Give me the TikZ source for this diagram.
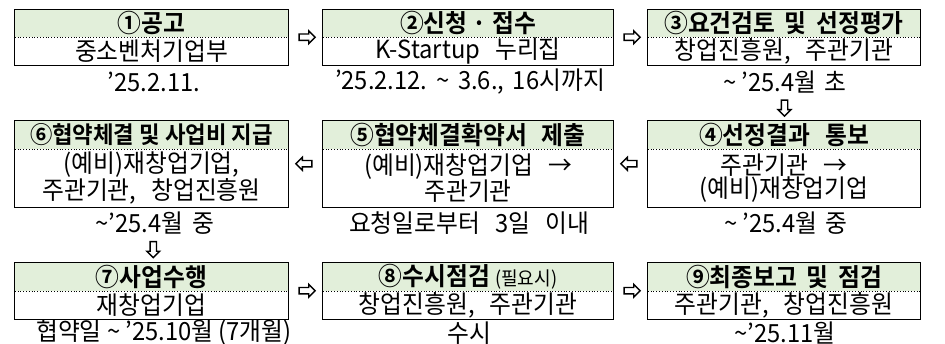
\documentclass[tikz,border=0pt]{standalone}
\usepackage{fontspec}
\setmainfont{Noto Sans CJK KR}[FakeStretch=0.95, BoldFont={Noto Sans CJK KR Bold}]
\usetikzlibrary{shapes.arrows,fit,calc}
\definecolor{hdrgreen}{HTML}{E2EFDA}
\newcommand{\wsp}{\hspace{0.6em}}
\newcommand{\hsp}{\hspace{0.6em}}
\newcommand{\nsp}{\hspace{0.38em}}
\newcommand{\msp}{\hspace{0.35em}}
\newcommand{\hdrfont}{\fontsize{25}{25}\selectfont\bfseries}
\newcommand{\bdyfont}{\fontsize{25}{23.5}\selectfont}
\tikzset{
  hdr/.style={fill=hdrgreen, anchor=north, inner sep=0pt, font=\hdrfont},
  bdy/.style={anchor=north, inner sep=0pt, align=center, font=\bdyfont},
  dt/.style={inner sep=0pt, font=\bdyfont},
  frame/.style={draw=black, line width=0.9pt, inner sep=0pt},
  divider/.style={black, line width=0.8pt, dotted},
  blockarrow/.style={single arrow, draw=black, fill=white, line width=1.4pt,
    minimum height=16pt, minimum width=12pt, inner sep=2.5pt,
    single arrow head extend=3.2pt},
  rarrow/.style={blockarrow},
  larrow/.style={blockarrow, shape border rotate=180},
  darrow/.style={blockarrow, shape border rotate=270},
  colA/.style={minimum width=273pt},
  colB/.style={minimum width=290pt},
  colC/.style={minimum width=272pt}
}
\begin{document}
\begin{tikzpicture}[x=1pt,y=-1pt]
\path[use as bounding box] (0,0) rectangle (945,344);

% ---------- Row 1 ----------
\node[hdr,colA,minimum height=28pt] (h1) at (151.5,9) {①공고};
\node[bdy,colA,minimum height=28pt] (b1) at (151.5,37) {중소벤처기업부};
\node[dt] (d1) at (154,82) {’25.2.11.};

\node[hdr,colB,minimum height=28pt] (h2) at (468,9) {②신청 · 접수};
\node[bdy,colB,minimum height=28pt] (b2) at (468,37) {K-Startup\wsp 누리집};
\node[dt] (d2) at (470,82) {’25.2.12.\msp\textasciitilde\msp 3.6.,\msp 16시까지};

\node[hdr,colC,minimum height=28pt] (h3) at (784,9) {③요건검토\nsp 및\nsp 선정평가};
\node[bdy,colC,minimum height=28pt] (b3) at (784,37) {창업진흥원,\wsp 주관기관};
\node[dt] (d3) at (785,82) {\textasciitilde\ ’25.4월\msp 초};

% ---------- Row 2 ----------
\node[hdr,colA,minimum height=29pt,font=\fontsize{23.5}{22}\selectfont\bfseries] (h6) at (151.5,120) {⑥협약체결 및 사업비 지급};
\node[bdy,colA,minimum height=58pt] (b6) at (151.5,149) {(예비)재창업기업,\\주관기관,\wsp 창업진흥원};
\node[dt] (d6) at (155,223) {\textasciitilde’25.4월\msp 중};

\node[hdr,colB,minimum height=29pt] (h5) at (468,120) {⑤협약체결확약서\hsp 제출};
\node[bdy,colB,minimum height=58pt] (b5) at (468,149) {(예비)재창업기업\wsp →\\주관기관};
\node[dt] (d5) at (469,223) {요청일로부터\wsp 3일\wsp 이내};

\node[hdr,colC,minimum height=29pt] (h4) at (784,120) {④선정결과\hsp 통보};
\node[bdy,colC,minimum height=58pt] (b4) at (784,149) {주관기관\wsp →\\(예비)재창업기업};
\node[dt] (d4) at (786,223) {\textasciitilde\ ’25.4월\msp 중};

% ---------- Row 3 ----------
\node[hdr,colA,minimum height=29pt] (h7) at (151.5,262) {⑦사업수행};
\node[bdy,colA,minimum height=28pt] (b7) at (151.5,291) {재창업기업};
\node[dt] (d7) at (164,333) {협약일 \textasciitilde\ ’25.10월 (7개월)};

\node[hdr,colB,minimum height=29pt] (h8) at (468,262) {⑧수시점검 {\mdseries\fontsize{19}{19}\selectfont (필요시)}};
\node[bdy,colB,minimum height=28pt] (b8) at (468,291) {창업진흥원,\wsp 주관기관};
\node[dt] (d8) at (469,333) {수시};

\node[hdr,colC,minimum height=29pt] (h9) at (784,262) {⑨최종보고\nsp 및\nsp 점검};
\node[bdy,colC,minimum height=28pt] (b9) at (784,291) {주관기관,\wsp 창업진흥원};
\node[dt] (d9) at (785,333) {\textasciitilde’25.11월};

% ---------- frames and dividers ----------
\foreach \k in {1,...,9}{
  \node[frame, fit=(h\k)(b\k)] (f\k) {};
  \draw[divider] (h\k.south west) -- (h\k.south east);
}

% ---------- arrows ----------
\node[rarrow] (a12) at ($(f1.east)!0.5!(f2.west)$) {};
\node[rarrow] (a23) at ($(f2.east)!0.5!(f3.west)$) {};
\node[darrow] (a34) at ($(d3.south)!0.5!(f4.north)$) {};
\node[larrow] (a45) at ($(f4.west)!0.5!(f5.east)$) {};
\node[larrow] (a56) at ($(f5.west)!0.5!(f6.east)$) {};
\node[darrow] (a67) at ($(d6.south)!0.5!(f7.north)$) {};
\node[rarrow] (a78) at ($(f7.east)!0.5!(f8.west)$) {};
\node[rarrow] (a89) at ($(f8.east)!0.5!(f9.west)$) {};
\end{tikzpicture}
\end{document}
